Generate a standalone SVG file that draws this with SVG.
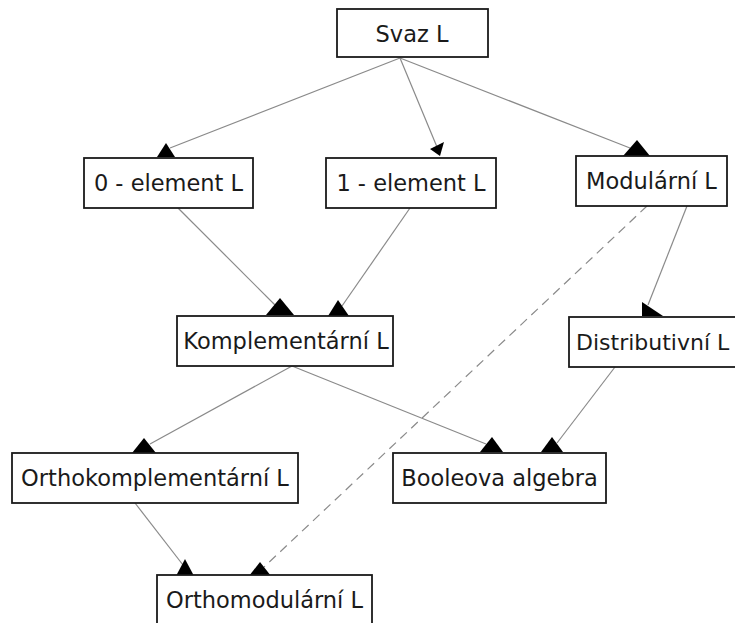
<svg xmlns="http://www.w3.org/2000/svg" width="735" height="623" viewBox="0 0 735 623">
  <style>
    .box { fill: #ffffff; stroke: #1a1a1a; stroke-width: 1.8; }
    .label { font-family: "DejaVu Sans", Verdana, sans-serif; font-size: 22.5px; fill: #1a1a1a; text-anchor: middle; }
    .edge { stroke: #8a8a8a; stroke-width: 1.2; fill: none; }
    .dashed { stroke-dasharray: 9 6; }
    .head { fill: #000000; stroke: none; }
  </style>
  <rect width="735" height="623" fill="#ffffff"/>

  <!-- connectors -->
  <g id="connectors">
    <line class="edge" x1="400" y1="58" x2="170" y2="148"/>
    <line class="edge" x1="400" y1="58" x2="437" y2="147"/>
    <line class="edge" x1="400" y1="58" x2="630" y2="148"/>
    <line class="edge" x1="178" y1="208" x2="275" y2="305"/>
    <line class="edge" x1="410" y1="208" x2="342" y2="306"/>
    <line class="edge dashed" x1="647" y1="206" x2="264" y2="567"/>
    <line class="edge" x1="687" y1="206" x2="648" y2="305"/>
    <line class="edge" x1="292" y1="366" x2="150" y2="444"/>
    <line class="edge" x1="292" y1="366" x2="486" y2="444"/>
    <line class="edge" x1="615" y1="367" x2="557" y2="443"/>
    <line class="edge" x1="135" y1="503" x2="183" y2="565"/>

    <polygon class="head" points="166,143 157,157 175,157"/>
    <polygon class="head" points="440,156 430,149 444,142"/>
    <polygon class="head" points="637,140 623,156 650,156"/>
    <polygon class="head" points="280,298 266,315 294,315"/>
    <polygon class="head" points="338,300 328,316 349,316"/>
    <polygon class="head" points="642,302 642,316 663,316"/>
    <polygon class="head" points="144,438 132,453 156,453"/>
    <polygon class="head" points="492,437 480,452 503,452"/>
    <polygon class="head" points="552,437 541,452 563,452"/>
    <polygon class="head" points="185,559 176,576 194,576"/>
    <polygon class="head" points="260,562 249,576 271,576"/>
  </g>

  <g id="svaz">
    <rect class="box" x="337" y="9" width="151" height="48"/>
    <text class="label" x="412" y="42">Svaz L</text>
  </g>
  <g id="nula">
    <rect class="box" x="84" y="158" width="169" height="50"/>
    <text class="label" x="168.5" y="191">0 - element L</text>
  </g>
  <g id="jedna">
    <rect class="box" x="326" y="158" width="170" height="50"/>
    <text class="label" x="411" y="191">1 - element L</text>
  </g>
  <g id="modularni">
    <rect class="box" x="576" y="156" width="151" height="50"/>
    <text class="label" x="651.5" y="189">Modulární L</text>
  </g>
  <g id="komplementarni">
    <rect class="box" x="177" y="316" width="216" height="50"/>
    <text class="label" x="286" y="349">Komplementární L</text>
  </g>
  <g id="distributivni">
    <rect class="box" x="569" y="317" width="175" height="50"/>
    <text class="label" x="576" y="350" style="text-anchor:start; font-size:22px">Distributivní L</text>
  </g>
  <g id="orthokomplementarni">
    <rect class="box" x="12" y="453" width="286" height="50"/>
    <text class="label" x="155" y="486">Orthokomplementární L</text>
  </g>
  <g id="booleova">
    <rect class="box" x="393" y="453" width="213" height="50"/>
    <text class="label" x="499.5" y="486">Booleova algebra</text>
  </g>
  <g id="orthomodularni">
    <rect class="box" x="157" y="575" width="215" height="52"/>
    <text class="label" x="264.5" y="608">Orthomodulární L</text>
  </g>
</svg>
